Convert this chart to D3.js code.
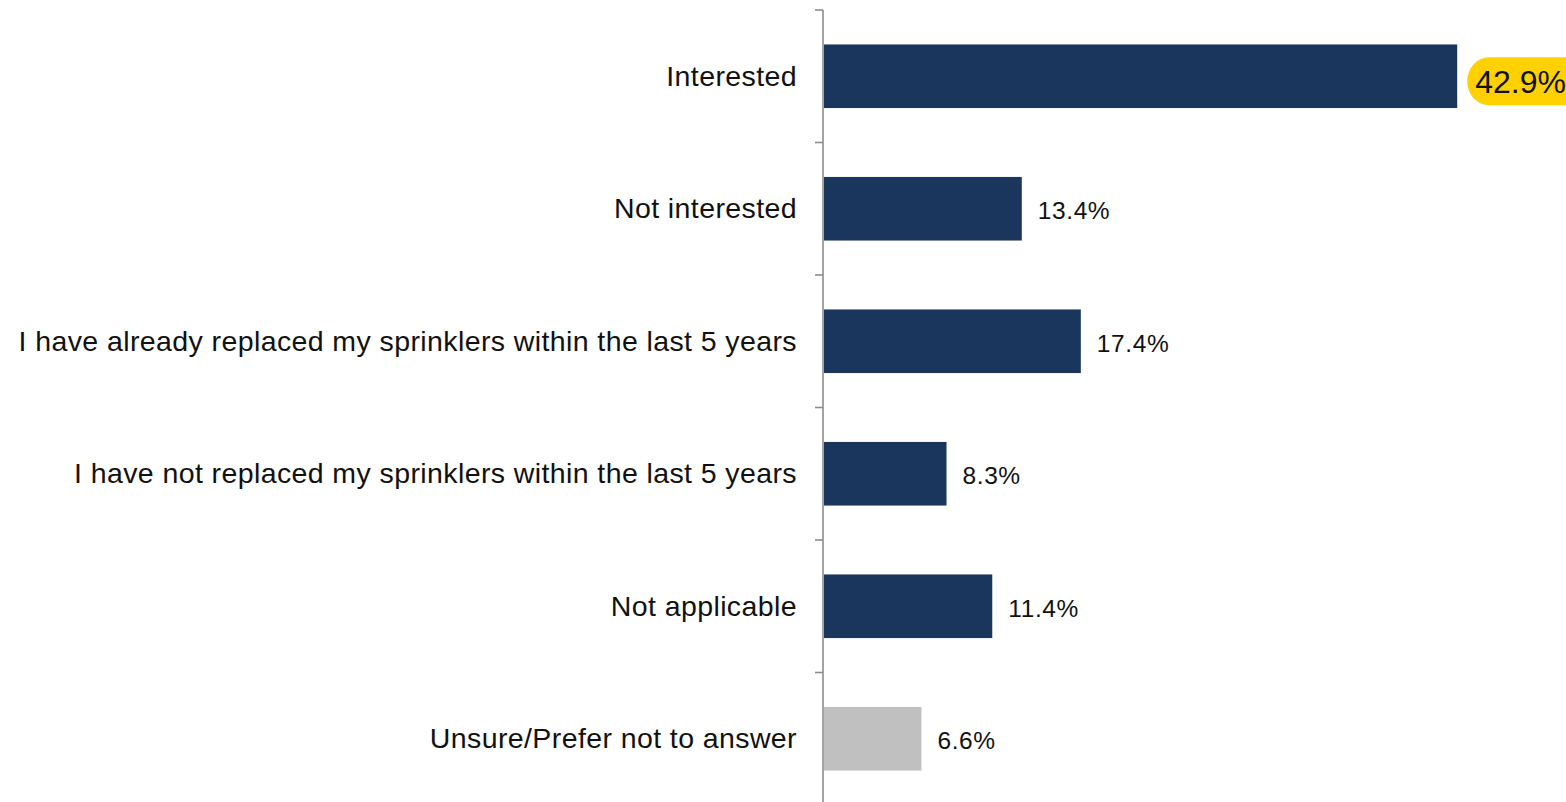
<!DOCTYPE html>
<html><head><meta charset="utf-8">
<script src="https://cdn.jsdelivr.net/npm/d3@7"></script>
<style>
html,body{margin:0;padding:0;background:#fff;}
text{font-family:"Liberation Sans",Arial,Helvetica,sans-serif;}
</style></head>
<body>
<svg id="chart" width="1566" height="802"></svg>
<script>
const categories = [
  "Interested",
  "Not interested",
  "I have already replaced my sprinklers within the last 5 years",
  "I have not replaced my sprinklers within the last 5 years",
  "Not applicable",
  "Unsure/Prefer not to answer"
];
const values = [42.9, 13.4, 17.4, 8.3, 11.4, 6.6];
const valueLabels = ["42.9%", "13.4%", "17.4%", "8.3%", "11.4%", "6.6%"];
const highlighted = [true, false, false, false, false, false];
const barColors = ["#1b365d", "#1b365d", "#1b365d", "#1b365d", "#1b365d", "#c0c0c0"];

const svg = d3.select("#chart");
const axisX = 823;
const y = d3.scaleBand().domain(categories).range([10, 805]).paddingInner(0.52).paddingOuter(0.26);
const x = d3.scaleLinear().domain([0, 50]).range([824, 824 + 738]);

// bars
svg.selectAll("rect.bar").data(categories).join("rect")
  .attr("class", "bar")
  .attr("x", x(0))
  .attr("y", d => y(d))
  .attr("width", (d, i) => x(values[i]) - x(0))
  .attr("height", y.bandwidth())
  .attr("fill", (d, i) => barColors[i]);

// axis line and ticks
const step = y.step();
const gap = (step - y.bandwidth()) / 2;
const bounds = categories.map(c => y(c) - gap).concat([y(categories[categories.length - 1]) + y.bandwidth() + gap]);
svg.append("line").attr("x1", axisX).attr("x2", axisX).attr("y1", 10).attr("y2", 802)
  .attr("stroke", "#8c8c8c").attr("stroke-width", 1.6);
svg.selectAll("line.tick").data(bounds).join("line").attr("class", "tick")
  .attr("x1", axisX - 8).attr("x2", axisX).attr("y1", d => d).attr("y2", d => d)
  .attr("stroke", "#8c8c8c").attr("stroke-width", 1.6);

// category labels
svg.selectAll("text.cat").data(categories).join("text").attr("class", "cat")
  .attr("x", 797)
  .attr("y", d => y(d) + y.bandwidth() / 2 + 9.5)
  .attr("text-anchor", "end")
  .attr("font-size", 28.5)
  .attr("letter-spacing", 0.4)
  .attr("fill", "#111")
  .text(d => d);

// highlight pill
categories.forEach((c, i) => {
  if (!highlighted[i]) return;
  const cy = y(c) + y.bandwidth() / 2 + 5;
  svg.append("rect").attr("x", x(values[i]) + 10).attr("y", cy - 24)
    .attr("width", 140).attr("height", 48).attr("rx", 22).attr("ry", 24)
    .attr("fill", "#ffd100");
});

// value labels
svg.selectAll("text.val").data(categories).join("text").attr("class", "val")
  .attr("x", (d, i) => x(values[i]) + (highlighted[i] ? 18 : 16))
  .attr("y", (d, i) => y(d) + y.bandwidth() / 2 + (highlighted[i] ? 16.5 : 10.5))
  .attr("font-size", (d, i) => highlighted[i] ? 32 : 24.5)
  .attr("letter-spacing", (d, i) => highlighted[i] ? 0 : 0.6)
  .attr("fill", "#111")
  .text((d, i) => valueLabels[i]);
</script>
</body></html>
